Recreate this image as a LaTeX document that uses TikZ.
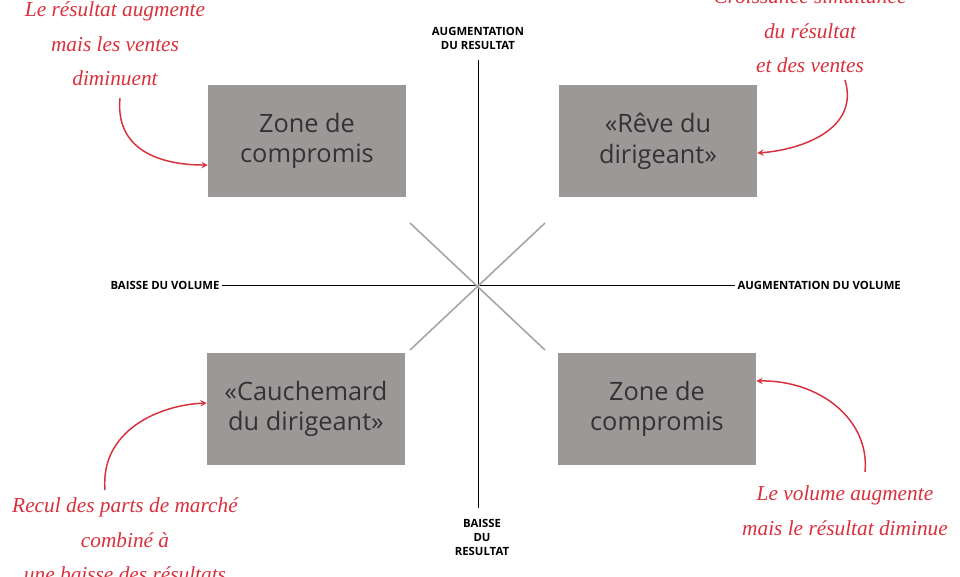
\documentclass[tikz,border=0pt]{standalone}
\usepackage{fontspec}
\setmainfont{Liberation Serif}
\setsansfont{Open Sans}
\usetikzlibrary{positioning}
\definecolor{boxgray}{HTML}{9C9897}
\definecolor{notered}{HTML}{D8303C}
\definecolor{textdark}{HTML}{333333}
\begin{document}
\begin{tikzpicture}[
                x=0.75pt,y=-0.75pt,
                zone/.style={fill=boxgray,minimum width=148.5pt,minimum height=84pt,
                    text=textdark,font=\sffamily\fontsize{19}{23}\selectfont,align=center},
                axislabel/.style={font=\sffamily\bfseries\fontsize{8.5}{10.5}\selectfont,align=center,inner sep=1pt},
                note/.style={text=notered,font=\itshape\fontsize{16}{26}\selectfont,align=center},
                pointer/.style={->,notered,line width=1.1pt,>=stealth}
            ]
                \useasboundingbox (0,0) rectangle (960,576);
                \clip (0,0) rectangle (960,576);
                % axes
                \coordinate (O) at (478,285);
                \draw (478,60) -- (478,508);
                \draw (222,285) -- (735,285);
                \draw[gray!70,line width=1.2pt] (410,223) -- (545,350);
                \draw[gray!70,line width=1.2pt] (545,223) -- (410,350);
                \node[axislabel] (top)    at (478,38)  {AUGMENTATION\\DU RESULTAT};
                \node[axislabel] (bottom) at (482,537) {BAISSE\\DU\\RESULTAT};
                \node[axislabel,anchor=east] (left)  at (221,285) {BAISSE DU VOLUME};
                \node[axislabel,anchor=west] (right) at (736,285) {AUGMENTATION DU VOLUME};
                % quadrants
                \node[zone] (tl) at (307,141) {Zone de\\compromis};
                \node[zone] (tr) at (658,141) {«Rêve du\\dirigeant»};
                \node[zone] (bl) at (306,409) {«Cauchemard\\du dirigeant»};
                \node[zone] (br) at (657,409) {Zone de\\compromis};
                % notes
                \node[note] (ntl) at (115,44)  {Le résultat augmente\\mais les ventes\\diminuent};
                \node[note] (ntr) at (810,31)  {Croissance simultanée\\du résultat\\et des ventes};
                \node[note] (nbl) at (125,540) {Recul des parts de marché\\combiné à\\une baisse des résultats};
                \node[note] (nbr) at (845,511) {Le volume augmente\\mais le résultat diminue};
                \draw[pointer] (120,98) .. controls (115,150) and (160,165) .. (tl.west |- 0,165);
                \draw[pointer] (845,80) .. controls (860,130) and (800,150) .. (tr.east |- 0,153);
                \draw[pointer] (105,490) .. controls (100,430) and (160,405) .. (bl.west |- 0,403);
                \draw[pointer] (865,472) .. controls (870,420) and (820,380) .. (br.east |- 0,381);
            \end{tikzpicture}
\end{document}
